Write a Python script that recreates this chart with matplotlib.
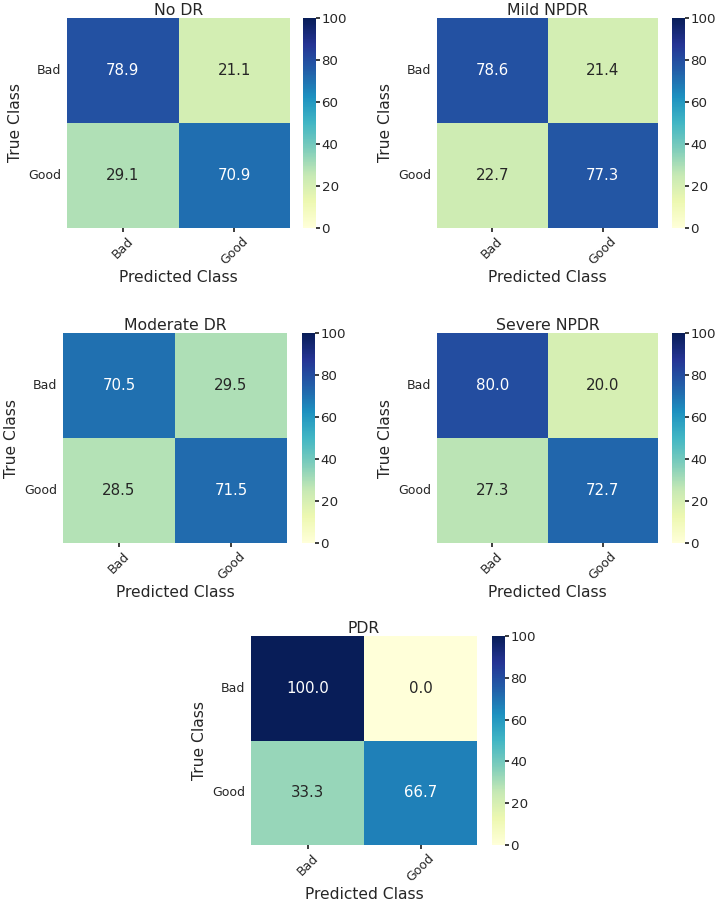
import matplotlib
matplotlib.use("Agg")
import matplotlib.pyplot as plt
import seaborn as sns
import numpy as np

sns.set_theme(style="white")
plt.rcParams['font.family'] = ['DejaVu Sans']

classes = ["Bad", "Good"]
titles = ["No DR", "Mild NPDR", "Moderate DR", "Severe NPDR", "PDR"]
no_dr = [[78.9, 21.1], [29.1, 70.9]]
mild_npdr = [[78.6, 21.4], [22.7, 77.3]]
moderate_dr = [[70.5, 29.5], [28.5, 71.5]]
severe_npdr = [[80.0, 20.0], [27.3, 72.7]]
pdr = [[100.0, 0.0], [33.3, 66.7]]
matrices = [no_dr, mild_npdr, moderate_dr, severe_npdr, pdr]

W, H = 722, 907
fig = plt.figure(figsize=(W / 100, H / 100), dpi=100)

# pixel boxes: heatmap (x0, x1, y0, y1), colorbar x0
boxes = [
    (67, 290, 18, 228, 303),
    (437, 658, 18, 228, 672),
    (63, 287, 333, 543, 302),
    (437, 658, 333, 543, 672),
    (251, 477, 636, 845, 492),
]

def px(x0, x1, y0, y1):
    return [x0 / W, 1 - y1 / H, (x1 - x0) / W, (y1 - y0) / H]

for m, t, b in zip(matrices, titles, boxes):
    x0, x1, y0, y1, cx = b
    ax = fig.add_axes(px(x0, x1, y0, y1))
    cax = fig.add_axes(px(cx, cx + 13, y0, y1))
    sns.heatmap(np.array(m), annot=True, fmt=".1f", cmap="YlGnBu", vmin=0, vmax=100,
                xticklabels=classes, yticklabels=classes, ax=ax, cbar_ax=cax,
                annot_kws={"size": 10.8})
    ax.set_title(t, fontsize=11.3, pad=2)
    ax.set_xlabel("Predicted Class", fontsize=11.2, labelpad=2)
    ax.set_ylabel("True Class", fontsize=11.2, labelpad=4)
    ax.tick_params(axis="x", labelsize=9, rotation=45, length=3, bottom=True, pad=2)
    ax.tick_params(axis="y", labelsize=9, rotation=0, length=0, pad=4)
    cax.tick_params(labelsize=9.6, length=3, right=True, pad=1)
    cax.set_yticks([0, 20, 40, 60, 80, 100])

fig.savefig("out.png", dpi=100)
